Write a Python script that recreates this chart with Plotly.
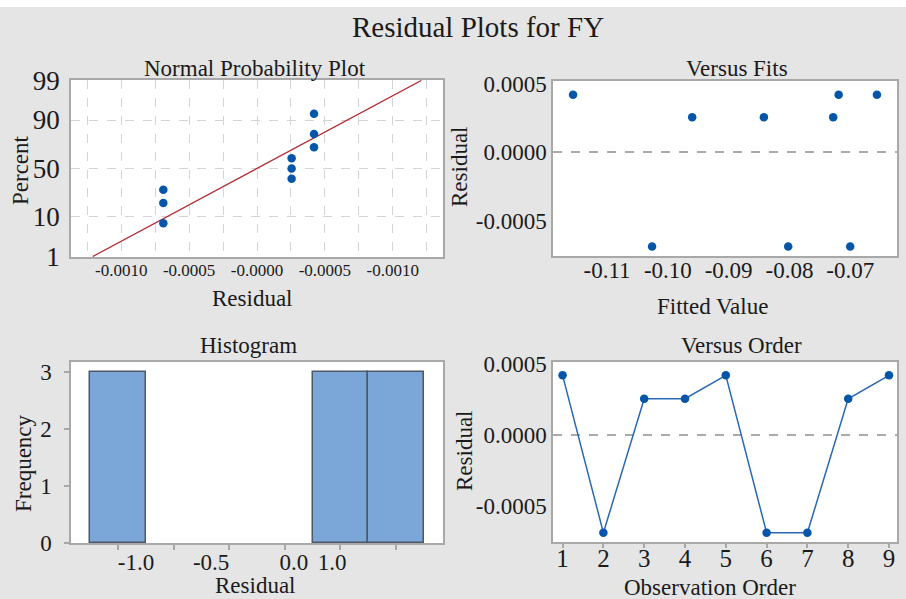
import plotly.graph_objects as go
from statistics import NormalDist

# ---------------- data ----------------
obs_order = [1, 2, 3, 4, 5, 6, 7, 8, 9]
residuals = [0.00042, -0.00069, 0.000255, 0.000255, 0.00042, -0.00069, -0.00069, 0.000255, 0.00042]
fitted = [-0.1156, -0.1026, -0.0960, -0.0842, -0.0719, -0.0802, -0.0700, -0.0728, -0.0656]

prob_residuals = sorted(residuals)
prob_percent = [7.4, 18.1, 28.7, 39.4, 50.0, 60.6, 71.3, 81.9, 92.6]
fit_line_residual = [-0.00121, 0.00121]
fit_line_percent = [1, 99]

npp_y_ticks = [1, 10, 50, 90, 99]
npp_x_tickvals = [-0.00125, -0.001, -0.00075, -0.0005, -0.00025, 0.0, 0.00025, 0.0005, 0.00075, 0.001, 0.00125]
npp_x_ticktext = ["", "-0.0010", "", "-0.0005", "", "-0.0000", "", "-0.0005", "", "-0.0010", ""]

fits_x_ticks = [-0.11, -0.10, -0.09, -0.08, -0.07]
fits_x_text = ["-0.11", "-0.10", "-0.09", "-0.08", "-0.07"]
resid_ticks = [-0.0005, 0.0, 0.0005]
resid_text = ["-0.0005", "0.0000", "0.0005"]

hist_bin_start, hist_bin_end, hist_bin_size = -0.0007, 0.0006, 0.0002
hist_tick_marks = [-0.0006, -0.0004, -0.0002, 0.0, 0.0002, 0.0004]
hist_label_pos = [-0.000535, -0.000265, 0.000033, 0.00017]
hist_label_text = ["-1.0", "-0.5", "0.0", "1.0"]
freq_ticks = [0, 1, 2, 3]

# ---------------- styling ----------------
W, H = 906, 599
FONT = "Liberation Serif"
BG = "#e5e5e5"
AXC = "#a8a8a8"
BLUE = "#0556a8"
LINEBLUE = "#2a68b5"
nd = NormalDist()
z = lambda p: nd.inv_cdf(p / 100.0)

def px(x):
    return x / W

def py(y):
    return 1 - y / H

fig = go.Figure()

# Normal probability plot
fig.add_trace(go.Scatter(x=fit_line_residual, y=[z(p) for p in fit_line_percent], mode="lines",
                         line=dict(color="#b2282e", width=1.3), xaxis="x", yaxis="y", showlegend=False))
fig.add_trace(go.Scatter(x=prob_residuals, y=[z(p) for p in prob_percent], mode="markers",
                         marker=dict(color=BLUE, size=8.5), xaxis="x", yaxis="y", showlegend=False))

# Versus fits
fig.add_trace(go.Scatter(x=fitted, y=residuals, mode="markers", marker=dict(color=BLUE, size=8.5),
                         xaxis="x2", yaxis="y2", showlegend=False))

# Histogram
fig.add_trace(go.Histogram(x=residuals, xbins=dict(start=hist_bin_start, end=hist_bin_end, size=hist_bin_size),
                           marker=dict(color="#7ba6d8", line=dict(color="#4d5966", width=1.5)),
                           xaxis="x3", yaxis="y3", showlegend=False))
# empty carrier trace so the histogram's label axis is drawn
fig.add_trace(go.Scatter(x=[None], y=[None], mode="markers", xaxis="x5", yaxis="y3",
                         showlegend=False, hoverinfo="skip"))

# Versus order
fig.add_trace(go.Scatter(x=obs_order, y=residuals, mode="lines+markers",
                         line=dict(color=LINEBLUE, width=1.5), marker=dict(color=BLUE, size=8.5),
                         xaxis="x4", yaxis="y4", showlegend=False))

tickfont = dict(family=FONT, size=23, color="#1a1a1a")
base_axis = dict(showline=True, linecolor=AXC, linewidth=1.5, mirror=True, zeroline=False,
                 showgrid=False, tickfont=tickfont, automargin=False)

fig.update_layout(
    width=W, height=H,
    margin=dict(l=0, r=0, t=0, b=0, pad=0, autoexpand=False),
    paper_bgcolor=BG, plot_bgcolor="white",
    font=dict(family=FONT, color="#1a1a1a"),
    title=dict(text="Residual Plots for FY", x=px(478), y=py(27), xanchor="center", yanchor="middle",
               xref="paper", yref="container", automargin=False,
               font=dict(family=FONT, size=29, color="#1a1a1a")),
    xaxis=dict(base_axis, domain=[px(71), px(443)], anchor="y", range=[-0.00137, 0.00137],
               tickvals=npp_x_tickvals, ticktext=npp_x_ticktext, ticks="",
               tickfont=dict(family=FONT, size=17, color="#1a1a1a"),
               showgrid=True, gridcolor="#d4d4d4", griddash="dash", gridwidth=1, ticklabelstandoff=-3),
    yaxis=dict(base_axis, domain=[py(257), py(80)], anchor="x", range=[-2.34, 2.34],
               tickvals=[z(p) for p in npp_y_ticks], ticktext=[str(p) for p in npp_y_ticks], ticks="",
               tickfont=dict(family=FONT, size=27, color="#1a1a1a"),
               showgrid=True, gridcolor="#d4d4d4", griddash="dash", gridwidth=1, ticklabelstandoff=4),
    xaxis2=dict(base_axis, domain=[px(553), px(897)], anchor="y2", range=[-0.1189, -0.0623],
                tickvals=fits_x_ticks, ticktext=fits_x_text, ticks="", ticklabelstandoff=-7),
    yaxis2=dict(base_axis, domain=[py(256), py(81)], anchor="x2", range=[-0.00076, 0.00052],
                tickvals=resid_ticks, ticktext=resid_text, ticks="", ticklabelstandoff=0),
    xaxis3=dict(base_axis, domain=[px(71), px(443)], anchor="y3", range=[-0.000769, 0.000569],
                tickvals=hist_tick_marks, ticktext=[""] * len(hist_tick_marks),
                ticks="outside", ticklen=5, tickcolor=AXC, tickwidth=1.5),
    xaxis5=dict(base_axis, domain=[px(71), px(443)], anchor="y3", overlaying="x3", side="bottom",
                range=[-0.000769, 0.000569], showline=False, mirror=False,
                tickvals=hist_label_pos, ticktext=hist_label_text, ticks="", ticklabelstandoff=3),
    yaxis3=dict(base_axis, domain=[py(543), py(362)], anchor="x3", range=[0, 3.18],
                tickvals=freq_ticks, ticks="outside", ticklen=5, tickcolor=AXC, tickwidth=1.5,
                ticklabelstandoff=8),
    xaxis4=dict(base_axis, domain=[px(553), px(897)], anchor="y4", range=[0.765, 9.196],
                tickvals=obs_order, ticks="outside", ticklen=4, tickcolor=AXC, tickwidth=1.5,
                ticklabelstandoff=-11, tickfont=dict(family=FONT, size=25, color="#1a1a1a")),
    yaxis4=dict(base_axis, domain=[py(542), py(362)], anchor="x4", range=[-0.000755, 0.000514],
                tickvals=resid_ticks, ticktext=resid_text, ticks="", ticklabelstandoff=0),
    bargap=0,
)

# zero reference lines
for xr, yr in (("x2", "y2"), ("x4", "y4")):
    fig.add_shape(type="line", xref=f"{xr} domain", yref=yr, x0=0, x1=1, y0=0, y1=0,
                  line=dict(color="#aaaaaa", width=2, dash="dash"), layer="below")

# white strip at very top
fig.add_shape(type="rect", xref="paper", yref="paper", x0=0, x1=1, y0=py(7), y1=1,
              fillcolor="white", line=dict(width=0), layer="above")

ann_font = dict(family=FONT, size=23, color="#1a1a1a")
texts = [
    ("Normal Probability Plot", 255, 68, 0),
    ("Versus Fits", 737, 68, 0),
    ("Histogram", 248, 345, 0),
    ("Versus Order", 741, 345, 0),
    ("Residual", 253, 298, 0),
    ("Fitted Value", 712, 307, 0),
    ("Residual", 255, 585, 0),
    ("Observation Order", 710, 587, 0),
    ("Percent", 21, 170, -90),
    ("Residual", 459, 167, -90),
    ("Frequency", 23, 463, -90),
    ("Residual", 464, 450, -90),
]
for t, x, y, ang in texts:
    fig.add_annotation(text=t, x=px(x), y=py(y), xref="paper", yref="paper", showarrow=False,
                       xanchor="center", yanchor="middle", textangle=ang, font=ann_font)

fig.write_html("out.html")
